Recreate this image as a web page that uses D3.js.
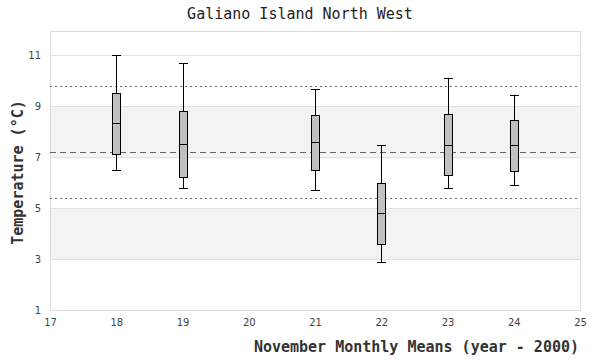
<!DOCTYPE html>
<html><head><meta charset="utf-8">
<script src="https://cdn.jsdelivr.net/npm/d3@7"></script>
<style>body{margin:0;background:#fff}</style>
</head><body><svg id="c" width="600" height="360"></svg>
<script>
const years = [18, 19, 21, 22, 23, 24];
const whiskerLow  = [6.48, 5.77, 5.69, 2.87, 5.77, 5.89];
const q1          = [7.11, 6.20, 6.48, 3.58, 6.28, 6.45];
const median      = [8.32, 7.50, 7.58, 4.79, 7.46, 7.46];
const q3          = [9.50, 8.79, 8.66, 5.97, 8.68, 8.44];
const whiskerHigh = [11.0, 10.67, 9.67, 7.46, 10.10, 9.44];
const meanLine = 7.19;
const upperLine = 9.77;
const lowerLine = 5.38;
const xTicks = [17, 18, 19, 20, 21, 22, 23, 24, 25];
const yTicks = [1, 3, 5, 7, 9, 11];
const bands = [[3, 5], [7, 9]];

const svg = d3.select("#c");
const m = {l: 50, r: 20, t: 31, b: 50};
const W = 600, H = 360;
const x = d3.scaleLinear().domain([17, 25]).range([m.l, W - m.r]);
const y = d3.scaleLinear().domain([1, 11.94]).range([H - m.b, m.t]);

// bands
svg.append("g").selectAll("rect").data(bands).join("rect")
  .attr("x", x(17)).attr("width", x(25) - x(17))
  .attr("y", d => y(d[1])).attr("height", d => y(d[0]) - y(d[1]))
  .attr("fill", "#f3f3f3");

// grid
svg.append("g").selectAll("line").data(yTicks).join("line")
  .attr("x1", x(17)).attr("x2", x(25))
  .attr("y1", d => y(d) + 0.5).attr("y2", d => y(d) + 0.5)
  .attr("stroke", "#e2e2e2");

// frame
svg.append("rect").attr("x", x(17) + 0.5).attr("y", y(11.94) + 0.5)
  .attr("width", x(25) - x(17)).attr("height", y(1) - y(11.94))
  .attr("fill", "none").attr("stroke", "#dddddd");

// reference lines
const refs = [[upperLine, "2,3"], [meanLine, "6,4"], [lowerLine, "2,3"]];
svg.append("g").selectAll("line").data(refs).join("line")
  .attr("x1", x(17)).attr("x2", x(25))
  .attr("y1", d => Math.round(y(d[0])) + 0.5).attr("y2", d => Math.round(y(d[0])) + 0.5)
  .attr("stroke", "#666").attr("stroke-dasharray", d => d[1]);

// boxes
const bw = 8, cw = 9;
const data = years.map((yr, i) => ({yr, lo: whiskerLow[i], q1: q1[i], md: median[i], q3: q3[i], hi: whiskerHigh[i]}));
const g = svg.append("g").selectAll("g").data(data).join("g");
const cx = d => Math.round(x(d.yr)) + 0.5;
g.append("line").attr("x1", cx).attr("x2", cx)
  .attr("y1", d => y(d.hi)).attr("y2", d => y(d.lo)).attr("stroke", "#000");
g.append("line").attr("x1", d => cx(d) - cw / 2).attr("x2", d => cx(d) + cw / 2)
  .attr("y1", d => Math.round(y(d.hi)) + 0.5).attr("y2", d => Math.round(y(d.hi)) + 0.5).attr("stroke", "#000");
g.append("line").attr("x1", d => cx(d) - cw / 2).attr("x2", d => cx(d) + cw / 2)
  .attr("y1", d => Math.round(y(d.lo)) + 0.5).attr("y2", d => Math.round(y(d.lo)) + 0.5).attr("stroke", "#000");
g.append("rect").attr("x", d => cx(d) - bw / 2).attr("width", bw)
  .attr("y", d => Math.round(y(d.q3)) + 0.5).attr("height", d => Math.round(y(d.q1)) - Math.round(y(d.q3)))
  .attr("fill", "#c0c0c0").attr("stroke", "#000");
g.append("line").attr("x1", d => cx(d) - bw / 2).attr("x2", d => cx(d) + bw / 2)
  .attr("y1", d => Math.round(y(d.md)) + 0.5).attr("y2", d => Math.round(y(d.md)) + 0.5).attr("stroke", "#000");

// axes
const tickFont = "DejaVu Sans, Verdana, sans-serif";
const xa = svg.append("g").attr("transform", `translate(0,${y(1)})`)
  .call(d3.axisBottom(x).tickValues(xTicks).tickSize(0).tickPadding(9).tickFormat(d3.format("d")));
const ya = svg.append("g").attr("transform", `translate(${x(17)},0)`)
  .call(d3.axisLeft(y).tickValues(yTicks).tickSize(0).tickPadding(9).tickFormat(d3.format("d")));
[xa, ya].forEach(a => {
  a.select(".domain").remove();
  a.selectAll("text").attr("font-family", tickFont).attr("font-size", 10).attr("fill", "#444");
});

const titleFont = "DejaVu Sans Mono, Liberation Mono, monospace";
svg.append("text").attr("x", 300).attr("y", 19).attr("text-anchor", "middle")
  .attr("font-family", titleFont).attr("font-size", 15).attr("fill", "#222")
  .text("Galiano Island North West");
svg.append("text").attr("x", 579).attr("y", 352).attr("text-anchor", "end")
  .attr("font-family", titleFont).attr("font-size", 15).attr("font-weight", "bold").attr("fill", "#333")
  .text("November Monthly Means (year - 2000)");
svg.append("text").attr("transform", `translate(23,${(y(1) + y(11.94)) / 2 + 2}) rotate(-90)`)
  .attr("text-anchor", "middle")
  .attr("font-family", titleFont).attr("font-size", 15).attr("font-weight", "bold").attr("fill", "#333")
  .text("Temperature (°C)");
</script></body></html>
